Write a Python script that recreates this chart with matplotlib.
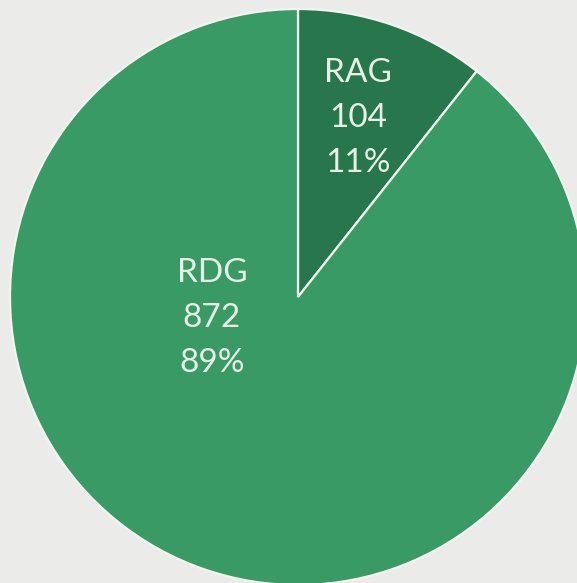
import matplotlib
matplotlib.use("Agg")
import matplotlib.pyplot as plt

categories = ["RAG", "RDG"]
values = [104, 872]
colors = ["#27764c", "#3a9a65"]
bg = "#ebebea"

W, H = 577, 583
fig = plt.figure(figsize=(W / 100, H / 100), dpi=100, facecolor=bg)
ax = fig.add_axes([0, 0, 1, 1])

cx, cy, r = 298, H - 297, 288
wedges, _ = ax.pie(values, colors=colors, startangle=90, counterclock=False,
                   center=(cx, cy), radius=r, frame=True,
                   wedgeprops=dict(edgecolor="#f2f5ee", linewidth=1.6))
ax.set_xlim(0, W)
ax.set_ylim(0, H)
ax.set_aspect("equal")
ax.axis("off")

total = sum(values)
label_pos = [(358, H - 118), (212, H - 318)]
for cat, v, (x, y) in zip(categories, values, label_pos):
    pct = round(100 * v / total)
    ax.text(x, y, f"{cat}\n{v}\n{pct}%", ha="center", va="center",
            color="#e8f0e6", fontsize=24, family=["Lato", "DejaVu Sans"],
            weight="normal", linespacing=1.62)

fig.savefig("out.png", dpi=100, facecolor=bg)
